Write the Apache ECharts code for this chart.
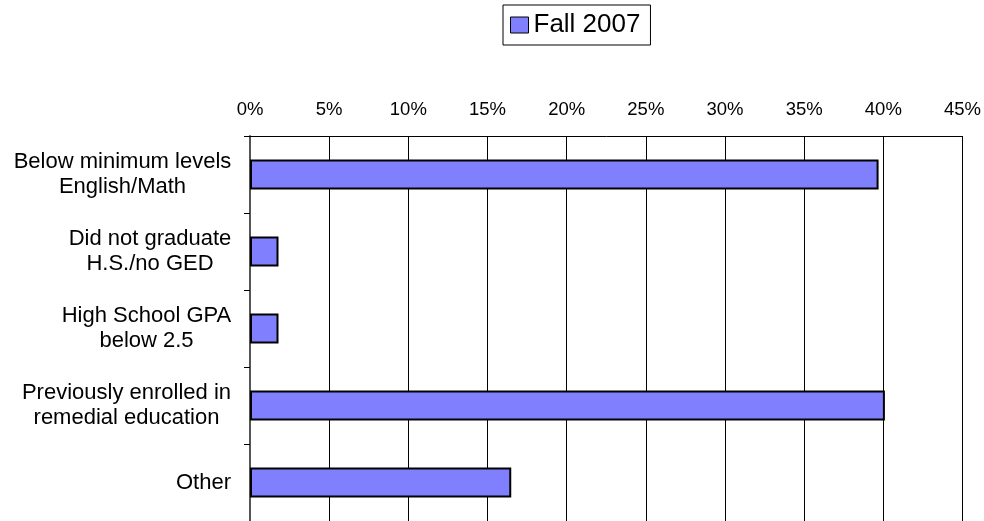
<!DOCTYPE html>
<html>
<head>
<meta charset="utf-8">
<script src="https://cdn.jsdelivr.net/npm/echarts@6/dist/echarts.min.js"></script>
<style>
  html, body { margin: 0; padding: 0; background: #fff; }
  #main { width: 984px; height: 521px; }
</style>
</head>
<body>
<div id="main"></div>
<script>
const categories = [
  'Below minimum levels\nEnglish/Math',
  'Did not graduate\nH.S./no GED',
  'High School GPA\nbelow 2.5',
  'Previously enrolled in\nremedial education',
  'Other'
];
const fall2007 = [39.7, 1.8, 1.8, 40.1, 16.5];

const FONT = 'Liberation Sans, Arial, sans-serif';
const LABEL_SIZE = 22;

// each category label: lines centred on each other, block right-aligned to the axis
const ctx = document.createElement('canvas').getContext('2d');
ctx.font = LABEL_SIZE + 'px ' + FONT;
const rich = {};
categories.forEach((c, i) => {
  const w = Math.max(...c.split('\n').map(s => ctx.measureText(s).width));
  rich['c' + i] = { width: Math.ceil(w) + 1, align: 'center', fontSize: LABEL_SIZE, lineHeight: 25, color: '#000', fontFamily: FONT };
});

const chart = echarts.init(document.getElementById('main'));
chart.setOption({
  backgroundColor: '#fff',
  animation: false,
  textStyle: { fontFamily: FONT },
  legend: {
    data: ['Fall 2007'],
    left: 503,
    top: 5,
    padding: [7, 10, 7, 7],
    borderColor: '#000',
    borderWidth: 1,
    icon: 'rect',
    itemWidth: 18,
    itemHeight: 16,
    itemGap: 4,
    itemStyle: { borderColor: '#000', borderWidth: 1 },
    textStyle: { fontSize: 26, color: '#000', fontFamily: FONT }
  },
  grid: { left: 250, right: 21, top: 136, bottom: 0, containLabel: false },
  xAxis: {
    type: 'value',
    position: 'top',
    min: 0,
    max: 45,
    interval: 5,
    axisLine: { show: true, lineStyle: { color: '#000', width: 1 } },
    axisTick: { show: false },
    axisLabel: {
      formatter: '{value}%',
      color: '#000',
      fontSize: 18.5,
      margin: 17
    },
    splitLine: { show: true, lineStyle: { color: '#000', width: 1 } }
  },
  yAxis: {
    type: 'category',
    inverse: true,
    data: categories,
    axisLine: { show: true, lineStyle: { color: '#555', width: 2 } },
    axisTick: { show: true, length: 6, lineStyle: { color: '#000' } },
    axisLabel: {
      margin: 18,
      align: 'right',
      formatter: (value, idx) => value.split('\n').map(s => '{c' + idx + '|' + s + '}').join('\n'),
      rich: rich
    }
  },
  series: [{
    name: 'Fall 2007',
    type: 'bar',
    data: fall2007,
    barWidth: 30,
    itemStyle: { color: '#8080FF', borderColor: '#000', borderWidth: 2 }
  }]
});
</script>
</body>
</html>
